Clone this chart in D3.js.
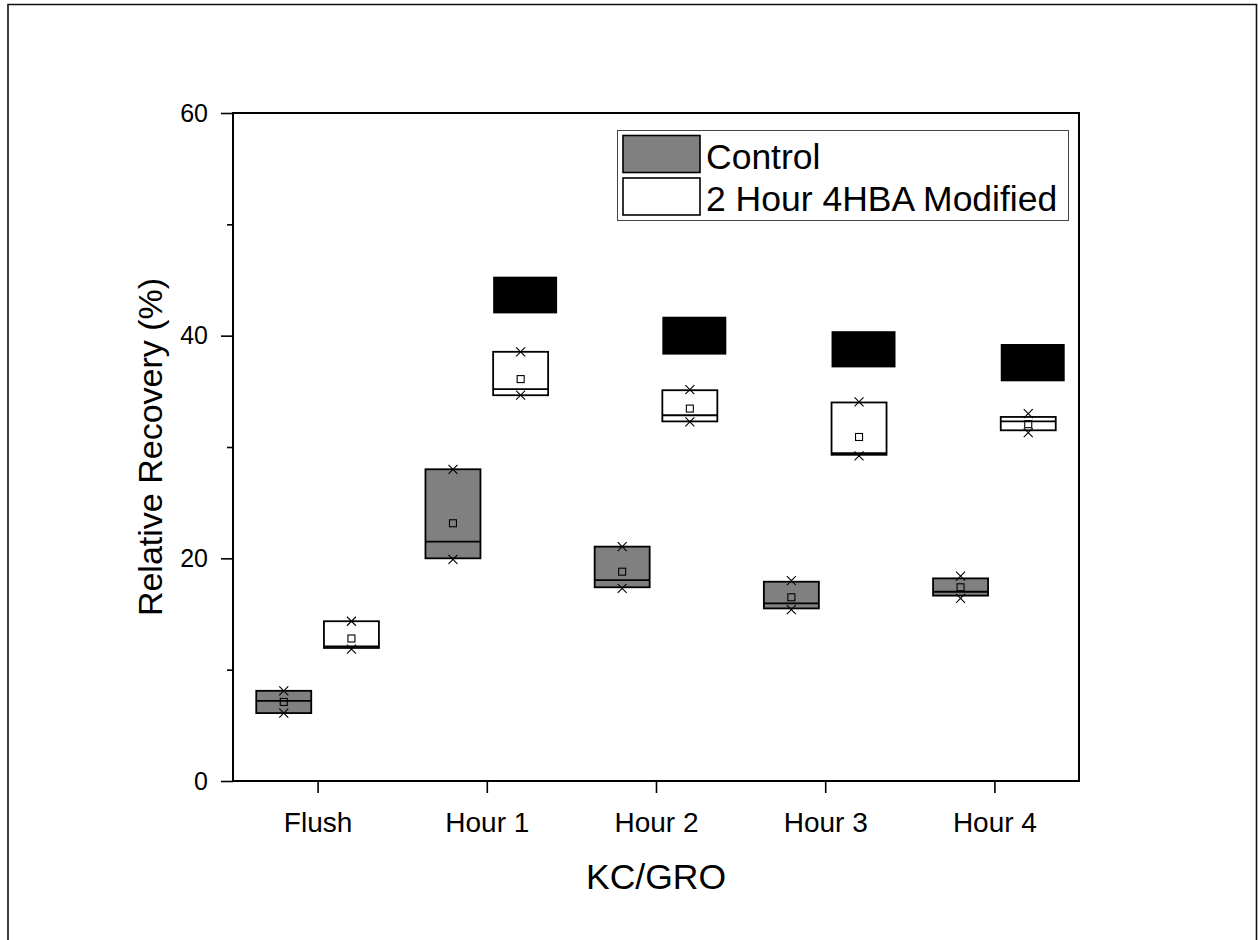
<!DOCTYPE html>
<html><head><meta charset="utf-8">
<script src="https://cdn.jsdelivr.net/npm/d3@7"></script>
<style>body{margin:0;background:#fff}svg{display:block}text{font-family:"Liberation Sans",Arial,sans-serif;fill:#000}</style>
</head><body>
<script>
const categories = ["Flush","Hour 1","Hour 2","Hour 3","Hour 4"];
const yTicks = [0,20,40,60];
const yMinorTicks = [10,30,50];

const controlQ1     = [6.1, 20.0, 17.4, 15.5, 16.65];
const controlQ3     = [8.1, 28.0, 21.05, 17.9, 18.2];
const controlMedian = [7.2, 21.5, 18.05, 15.95, 17.0];
const controlMean   = [7.1, 23.15, 18.8, 16.5, 17.4];
const controlMin    = [6.1, 19.9, 17.3, 15.4, 16.4];
const controlMax    = [8.1, 28.0, 21.05, 18.0, 18.4];

const modQ1     = [11.95, 34.65, 32.3, 29.3, 31.5];
const modQ3     = [14.35, 38.55, 35.1, 34.0, 32.7];
const modMedian = [12.1, 35.2, 32.85, 29.45, 32.3];
const modMean   = [12.8, 36.1, 33.45, 30.9, 32.05];
const modMin    = [11.85, 34.65, 32.25, 29.2, 31.3];
const modMax    = [14.35, 38.55, 35.15, 34.05, 33.0];

const blackLow  = [null, 42.0, 38.3, 37.15, 35.9];
const blackHigh = [null, 45.3, 41.7, 40.4, 39.25];

const W = 1258, H = 940;
const M = {left:233, right:1079, top:113, bottom:781};

const svg = d3.select("body").append("svg").attr("width",W).attr("height",H);

// outer frame
svg.append("path").attr("d",`M8,${H} V4.5 H1256.5 V${H}`).attr("fill","none").attr("stroke","#111").attr("stroke-width",1.6);

const x = d3.scaleLinear().domain([-0.5, categories.length-0.5]).range([M.left, M.right]);
const y = d3.scaleLinear().domain([0,60]).range([M.bottom, M.top]);

const boxW = 0.325, off = 0.2;

function drawSeries(q1,q3,med,mean,mn,mx,fill,dx){
  const g = svg.append("g");
  categories.forEach((c,i)=>{
    const cx = i+dx;
    g.append("rect")
      .attr("x", x(cx-boxW/2)).attr("width", x(cx+boxW/2)-x(cx-boxW/2))
      .attr("y", y(q3[i])).attr("height", y(q1[i])-y(q3[i]))
      .attr("fill", fill).attr("stroke","#000").attr("stroke-width",1.8);
    g.append("line")
      .attr("x1", x(cx-boxW/2)).attr("x2", x(cx+boxW/2))
      .attr("y1", y(med[i])).attr("y2", y(med[i]))
      .attr("stroke","#000").attr("stroke-width",1.8);
    const px = x(cx), s = 3.5;
    g.append("rect").attr("x",px-s).attr("y",y(mean[i])-s).attr("width",2*s).attr("height",2*s)
      .attr("fill","none").attr("stroke","#000").attr("stroke-width",1.1);
    [mn[i],mx[i]].forEach(v=>{
      const py = y(v), k=4.5;
      g.append("path").attr("d",`M${px-k},${py-k}L${px+k},${py+k}M${px-k},${py+k}L${px+k},${py-k}`)
        .attr("stroke","#000").attr("stroke-width",1.1).attr("fill","none");
    });
  });
}
drawSeries(controlQ1,controlQ3,controlMedian,controlMean,controlMin,controlMax,"#808080",-off);
drawSeries(modQ1,modQ3,modMedian,modMean,modMin,modMax,"#fff",off);

// black rectangles
categories.forEach((c,i)=>{
  if(blackLow[i]==null) return;
  const x0 = i+off-boxW/2;
  svg.append("rect").attr("x",x(x0)).attr("width",x(x0+0.378)-x(x0))
    .attr("y",y(blackHigh[i])).attr("height",y(blackLow[i])-y(blackHigh[i])).attr("fill","#000");
});

// plot frame
svg.append("rect").attr("x",M.left).attr("y",M.top).attr("width",M.right-M.left).attr("height",M.bottom-M.top)
  .attr("fill","none").attr("stroke","#000").attr("stroke-width",2);

// y axis
const yAxis = d3.axisLeft(y).tickValues(yTicks).tickSize(12).tickPadding(13).tickFormat(d3.format("d"));
const ya = svg.append("g").attr("transform",`translate(${M.left},0)`).call(yAxis);
ya.select(".domain").remove();
ya.selectAll("line").attr("stroke","#000").attr("stroke-width",1.6);
ya.selectAll("text").attr("font-size",25).attr("font-family","Liberation Sans, Arial, sans-serif").attr("fill","#000");
const yMinor = d3.axisLeft(y).tickValues(yMinorTicks).tickSize(6).tickFormat("");
const ym = svg.append("g").attr("transform",`translate(${M.left},0)`).call(yMinor);
ym.select(".domain").remove();
ym.selectAll("line").attr("stroke","#000").attr("stroke-width",1.6);

// x axis
const xAxis = d3.axisBottom(x).tickValues(d3.range(categories.length)).tickSize(12).tickPadding(19).tickFormat(i=>categories[i]);
const xa = svg.append("g").attr("transform",`translate(0,${M.bottom})`).call(xAxis);
xa.select(".domain").remove();
xa.selectAll("line").attr("stroke","#000").attr("stroke-width",1.6);
xa.selectAll("text").attr("font-size",28).attr("font-family","Liberation Sans, Arial, sans-serif").attr("fill","#000");

// titles
svg.append("text").attr("x",(M.left+M.right)/2).attr("y",889).attr("text-anchor","middle").attr("font-size",35.5).text("KC/GRO");
svg.append("text").attr("transform",`translate(162,${(M.top+M.bottom)/2}) rotate(-90)`).attr("text-anchor","middle").attr("font-size",34).text("Relative Recovery (%)");

// legend
const lg = svg.append("g");
lg.append("rect").attr("x",617.5).attr("y",130.5).attr("width",451).attr("height",90).attr("fill","#fff").attr("stroke","#444").attr("stroke-width",1);
const legendItems = [{label:"Control",fill:"#808080"},{label:"2 Hour 4HBA Modified",fill:"#fff"}];
legendItems.forEach((d,i)=>{
  const yy = 135.5 + i*42.5;
  lg.append("rect").attr("x",623).attr("y",yy).attr("width",77).attr("height",37).attr("fill",d.fill).attr("stroke","#000").attr("stroke-width",1.6);
  lg.append("text").attr("x",706).attr("y",yy+33).attr("font-size",35.5).text(d.label);
});
</script>
</body></html>
